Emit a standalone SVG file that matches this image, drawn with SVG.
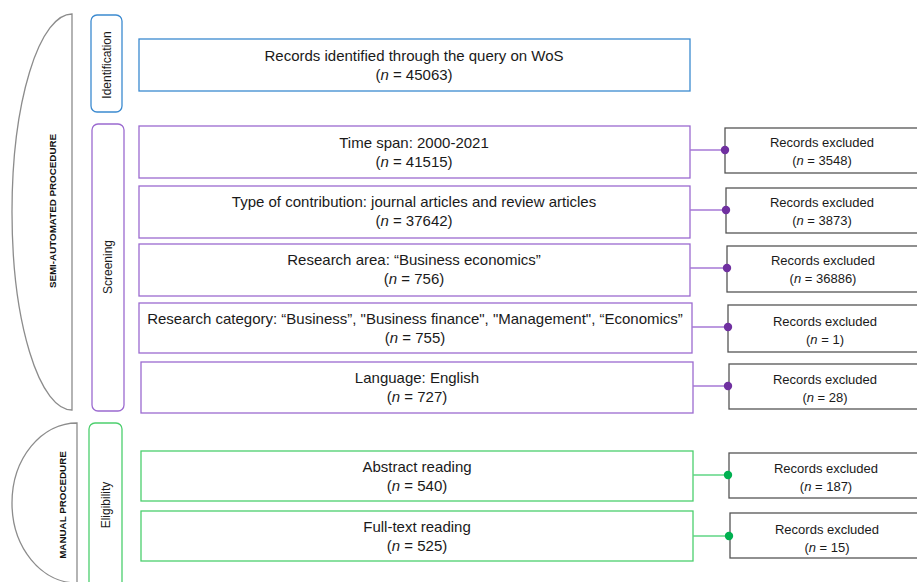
<svg xmlns="http://www.w3.org/2000/svg" width="917" height="582" viewBox="0 0 917 582">
<style>
.t{font-family:"Liberation Sans",Arial,sans-serif;font-size:15px;fill:#1a1a1a;text-anchor:middle}
.s{font-family:"Liberation Sans",Arial,sans-serif;font-size:13px;fill:#1a1a1a;text-anchor:middle}
.lab{font-family:"Liberation Sans",Arial,sans-serif;font-size:12px;fill:#1a1a1a;text-anchor:middle}
.proc{font-family:"Liberation Sans",Arial,sans-serif;font-size:9.8px;font-weight:bold;fill:#111;text-anchor:middle}
.blue{fill:#fff;stroke:#3b8ad0;stroke-width:1.3}
.pur{fill:#fff;stroke:#9b6ad0;stroke-width:1.3}
.grn{fill:#fff;stroke:#4ccf6e;stroke-width:1.3}
.exc{fill:#fff;stroke:#555;stroke-width:1.3}
.half{fill:#fff;stroke:#8c8c8c;stroke-width:1.3}
.cp{stroke:#a678d6;stroke-width:1.5;fill:none}
.cg{stroke:#5fd684;stroke-width:1.5;fill:none}
.dp{fill:#7030a0}
.dg{fill:#00b050}
</style>

<g id="semi-automated">
<path class="half" d="M72,14 A60,198 0 0 0 72,410 Z"/>
<text class="proc" transform="translate(55.5,211) rotate(-90)">SEMI-AUTOMATED PROCEDURE</text>
</g>
<g id="manual">
<path class="half" d="M77,423 A65,80 0 0 0 77,583 Z"/>
<text class="proc" transform="translate(65.5,505) rotate(-90)">MANUAL PROCEDURE</text>
</g>

<g id="stage-identification">
<rect class="blue" x="91" y="15" width="31" height="97" rx="6"/>
<text class="lab" transform="translate(111,65) rotate(-90)">Identification</text>
</g>
<g id="stage-screening">
<rect class="pur" x="92" y="124" width="32" height="287" rx="6"/>
<text class="lab" transform="translate(112,267) rotate(-90)">Screening</text>
</g>
<g id="stage-eligibility">
<rect class="grn" x="89" y="423" width="33" height="170" rx="6"/>
<text class="lab" transform="translate(110,505) rotate(-90)">Eligibility</text>
</g>

<g id="n-identified">
<rect class="blue" x="139" y="39" width="551" height="52"/>
<text class="t" x="414" y="61">Records identified through the query on WoS</text>
<text class="t" x="414" y="80">(<tspan font-style="italic">n</tspan> = 45063)</text>
</g>
<g id="n-timespan">
<rect class="pur" x="139" y="126" width="551" height="52"/>
<text class="t" x="414" y="148">Time span: 2000-2021</text>
<text class="t" x="414" y="167">(<tspan font-style="italic">n</tspan> = 41515)</text>
</g>
<g id="n-type">
<rect class="pur" x="139" y="186" width="551" height="52"/>
<text class="t" x="414" y="207">Type of contribution: journal articles and review articles</text>
<text class="t" x="414" y="226">(<tspan font-style="italic">n</tspan> = 37642)</text>
</g>
<g id="n-area">
<rect class="pur" x="139" y="244" width="551" height="52"/>
<text class="t" x="414" y="265">Research area: “Business economics”</text>
<text class="t" x="414" y="284">(<tspan font-style="italic">n</tspan> = 756)</text>
</g>
<g id="n-category">
<rect class="pur" x="139" y="303" width="553" height="50"/>
<text class="t" x="415" y="324">Research category: “Business”, "Business finance", "Management", “Economics”</text>
<text class="t" x="415" y="343">(<tspan font-style="italic">n</tspan> = 755)</text>
</g>
<g id="n-language">
<rect class="pur" x="141" y="362" width="552" height="51"/>
<text class="t" x="417" y="383">Language: English</text>
<text class="t" x="417" y="402">(<tspan font-style="italic">n</tspan> = 727)</text>
</g>
<g id="n-abstract">
<rect class="grn" x="141" y="451" width="552" height="50"/>
<text class="t" x="417" y="472">Abstract reading</text>
<text class="t" x="417" y="491">(<tspan font-style="italic">n</tspan> = 540)</text>
</g>
<g id="n-fulltext">
<rect class="grn" x="141" y="511" width="552" height="50"/>
<text class="t" x="417" y="532">Full-text reading</text>
<text class="t" x="417" y="551">(<tspan font-style="italic">n</tspan> = 525)</text>
</g>

<g id="x1"><rect class="exc" x="725" y="128" width="200" height="45"/>
<text class="s" x="822" y="147">Records excluded</text><text class="s" x="822" y="165">(<tspan font-style="italic">n</tspan> = 3548)</text></g>
<g id="x2"><rect class="exc" x="726" y="188" width="200" height="45"/>
<text class="s" x="822" y="207">Records excluded</text><text class="s" x="822" y="225">(<tspan font-style="italic">n</tspan> = 3873)</text></g>
<g id="x3"><rect class="exc" x="727" y="246" width="200" height="46"/>
<text class="s" x="823" y="265">Records excluded</text><text class="s" x="823" y="283">(<tspan font-style="italic">n</tspan> = 36886)</text></g>
<g id="x4"><rect class="exc" x="728" y="305" width="200" height="47"/>
<text class="s" x="825" y="326">Records excluded</text><text class="s" x="825" y="344">(<tspan font-style="italic">n</tspan> = 1)</text></g>
<g id="x5"><rect class="exc" x="729" y="364" width="200" height="45"/>
<text class="s" x="825" y="384">Records excluded</text><text class="s" x="825" y="402">(<tspan font-style="italic">n</tspan> = 28)</text></g>
<g id="x6"><rect class="exc" x="729" y="453" width="200" height="45"/>
<text class="s" x="826" y="473">Records excluded</text><text class="s" x="826" y="491">(<tspan font-style="italic">n</tspan> = 187)</text></g>
<g id="x7"><rect class="exc" x="730" y="513" width="200" height="45"/>
<text class="s" x="827" y="534">Records excluded</text><text class="s" x="827" y="552">(<tspan font-style="italic">n</tspan> = 15)</text></g>

<g id="connectors">
<line class="cp" x1="690" y1="150" x2="725" y2="150"/><circle class="dp" cx="725" cy="150" r="4.2"/>
<line class="cp" x1="690" y1="210" x2="726" y2="210"/><circle class="dp" cx="726" cy="210" r="4.2"/>
<line class="cp" x1="690" y1="268" x2="727" y2="268"/><circle class="dp" cx="727" cy="268" r="4.2"/>
<line class="cp" x1="692" y1="327" x2="728" y2="327"/><circle class="dp" cx="728" cy="327" r="4.2"/>
<line class="cp" x1="693" y1="386" x2="728" y2="386"/><circle class="dp" cx="728" cy="386" r="4.2"/>
<line class="cg" x1="693" y1="475" x2="728" y2="475"/><circle class="dg" cx="728" cy="475" r="4.2"/>
<line class="cg" x1="693" y1="536" x2="729" y2="536"/><circle class="dg" cx="729" cy="536" r="4.2"/>
</g>
</svg>
